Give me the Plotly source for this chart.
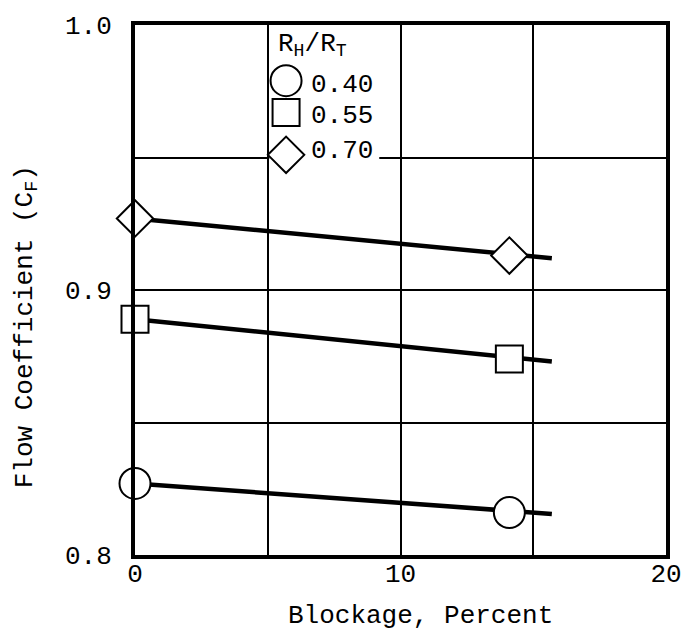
import plotly.graph_objects as go

# Flow coefficient measured at two blockage levels, three hub/tip ratios
blockage = [0.0, 14.1]
ratio_labels = ["0.40", "0.55", "0.70"]
cf_040 = [0.827, 0.816]
cf_055 = [0.889, 0.874]
cf_070 = [0.927, 0.913]

# Straight fits drawn through each pair, extended past the last point
fit_x = [0.0, 15.7]
fit_040 = [0.827, 0.8155]
fit_055 = [0.889, 0.873]
fit_070 = [0.927, 0.912]

x_ticks = [0, 5, 10, 15, 20]
x_tick_text = ["0", "", "10", "", "20"]
y_ticks = [0.80, 0.85, 0.90, 0.95, 1.00]
y_tick_text = ["0.8", "", "0.9", "", "1.0"]

FONT = "Liberation Mono, Courier New, monospace"
symbols = ["circle", "square", "diamond"]
sizes = [31, 27, 28]

fig = go.Figure()

for fy in (fit_040, fit_055, fit_070):
    fig.add_trace(go.Scatter(x=fit_x, y=fy, mode="lines",
                             line=dict(color="black", width=4.5),
                             hoverinfo="skip", cliponaxis=False))

for cf, sym, sz in zip((cf_040, cf_055, cf_070), symbols, sizes):
    fig.add_trace(go.Scatter(
        x=blockage, y=cf, mode="markers", cliponaxis=False,
        marker=dict(symbol=sym, size=sz, color="white",
                    line=dict(color="black", width=2))))

# Key: symbols with ratio labels, on a white patch over the grid
key_x = 5.69
key_y = [0.979, 0.967, 0.951]
key_text_x = 6.55
key_text_y = [0.9775, 0.9658, 0.9525]
fig.add_shape(type="rect", x0=5.06, x1=9.2, y0=0.946, y1=0.996,
              fillcolor="white", line=dict(width=0), layer="between")
for yk, sym, sz in zip(key_y, symbols, sizes):
    fig.add_trace(go.Scatter(
        x=[key_x], y=[yk], mode="markers", cliponaxis=False,
        marker=dict(symbol=sym, size=sz, color="white",
                    line=dict(color="black", width=2))))
for yt, label in zip(key_text_y, ratio_labels):
    fig.add_annotation(x=key_text_x, y=yt, text=label, showarrow=False,
                       xanchor="left", yanchor="middle",
                       font=dict(family=FONT, size=26, color="black"))
fig.add_annotation(x=5.3, y=0.9925, text="R<sub>H</sub>/R<sub>T</sub>",
                   showarrow=False, xanchor="left", yanchor="middle",
                   font=dict(family=FONT, size=26, color="black"))

# Axis titles
fig.add_annotation(xref="paper", yref="paper", x=0.537, y=-0.115,
                   text="Blockage, Percent", showarrow=False,
                   xanchor="center", yanchor="middle",
                   font=dict(family=FONT, size=26, color="black"))
fig.add_annotation(xref="paper", yref="paper", x=-0.205, y=0.43,
                   text="Flow Coefficient (C<sub>F</sub>)", showarrow=False,
                   textangle=-90, xanchor="center", yanchor="middle",
                   font=dict(family=FONT, size=26, color="black"))

axis_common = dict(showline=True, linecolor="black", linewidth=4, mirror=True,
                   showgrid=True, gridcolor="black", gridwidth=2,
                   zeroline=False, ticks="",
                   tickfont=dict(family=FONT, size=26, color="black"))

fig.update_xaxes(range=[0, 20], tickvals=x_ticks, ticktext=x_tick_text,
                 ticklabelstandoff=-8, **axis_common)
fig.update_yaxes(range=[0.8, 1.0], tickvals=y_ticks, ticktext=y_tick_text,
                 ticklabelstandoff=14, **axis_common)

fig.update_layout(
    width=694, height=640,
    margin=dict(l=135, r=21, t=20, b=85),
    plot_bgcolor="white", paper_bgcolor="white",
    showlegend=False,
    font=dict(family=FONT, color="black"),
)

fig.write_html("out.html")
